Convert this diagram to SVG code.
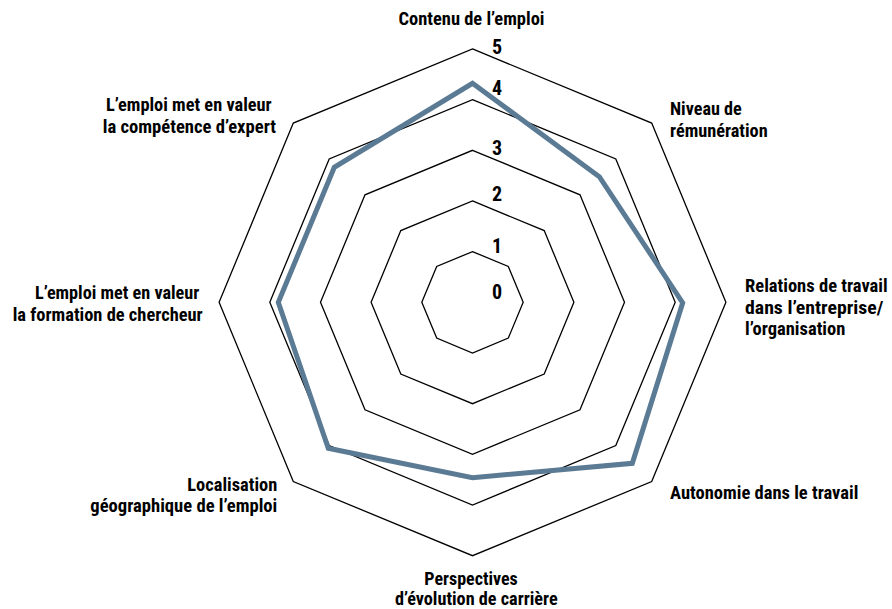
<svg xmlns="http://www.w3.org/2000/svg" width="892" height="609" viewBox="0 0 892 609">
<style>
.ring{fill:none;stroke:#000;stroke-width:1.3;stroke-linejoin:miter}
.data{fill:none;stroke:#5b7b95;stroke-width:5;stroke-linejoin:miter}
text{font-family:"Roboto Condensed","Roboto","Liberation Sans Narrow",sans-serif;font-weight:700;font-size:18px;fill:#000;font-stretch:condensed}
.num{font-size:20px;text-anchor:middle}
.mid{text-anchor:middle}
.end{text-anchor:end}
</style>
<rect width="892" height="609" fill="#fff"/>
<g id="grid">
<polygon class="ring" points="472.5,251.6 508.3,266.5 523.2,302.3 508.3,338.1 472.5,353 436.7,338.1 421.8,302.3 436.7,266.5"/>
<polygon class="ring" points="472.5,200.9 544.2,230.6 573.9,302.3 544.2,374 472.5,403.7 400.8,374 371.1,302.3 400.8,230.6"/>
<polygon class="ring" points="472.5,150.3 580,194.8 624.5,302.3 580,409.8 472.5,454.3 365,409.8 320.5,302.3 365,194.8"/>
<polygon class="ring" points="472.5,99.6 615.8,159 675.2,302.3 615.8,445.6 472.5,505 329.2,445.6 269.8,302.3 329.2,159"/>
<polygon class="ring" points="472.5,48.9 651.7,123.1 725.9,302.3 651.7,481.5 472.5,555.7 293.3,481.5 219.1,302.3 293.3,123.1"/>
</g>
<g id="scale">
<text class="num" x="497" y="298.5">0</text>
<text class="num" x="497" y="252.5">1</text>
<text class="num" x="497" y="201">2</text>
<text class="num" x="497" y="154.5">3</text>
<text class="num" x="497" y="95">4</text>
<text class="num" x="497" y="53.5">5</text>
</g>
<g id="series">
<polygon class="data" points="472.5,83.3 599.3,176.7 682.7,302.8 632.3,463.3 472.5,477.7 328.3,448.3 278.3,302.3 334.3,167.3"/>
</g>
<g id="label-contenu">
<text class="mid" x="471.5" y="24.5" textLength="146" lengthAdjust="spacingAndGlyphs">Contenu de l’emploi</text>
</g>
<g id="label-remuneration">
<text x="670" y="115" textLength="71.7" lengthAdjust="spacingAndGlyphs">Niveau de</text>
<text x="670" y="136.5" textLength="97.7" lengthAdjust="spacingAndGlyphs">rémunération</text>
</g>
<g id="label-relations">
<text x="745" y="292.3" textLength="142.7" lengthAdjust="spacingAndGlyphs">Relations de travail</text>
<text x="745" y="313.8" textLength="138.3" lengthAdjust="spacingAndGlyphs">dans l’entreprise/</text>
<text x="745" y="335.3" textLength="100.3" lengthAdjust="spacingAndGlyphs">l’organisation</text>
</g>
<g id="label-autonomie">
<text x="670" y="499" textLength="188.3" lengthAdjust="spacingAndGlyphs">Autonomie dans le travail</text>
</g>
<g id="label-perspectives">
<text class="mid" x="471" y="585" textLength="93.4" lengthAdjust="spacingAndGlyphs">Perspectives</text>
<text class="mid" x="476.3" y="605" textLength="162.7" lengthAdjust="spacingAndGlyphs">d’évolution de carrière</text>
</g>
<g id="label-localisation">
<text class="end" x="277.3" y="490.5" textLength="90" lengthAdjust="spacingAndGlyphs">Localisation</text>
<text class="end" x="277.3" y="512" textLength="187" lengthAdjust="spacingAndGlyphs">géographique de l’emploi</text>
</g>
<g id="label-formation">
<text class="end" x="199.3" y="298.5" textLength="164.3" lengthAdjust="spacingAndGlyphs">L’emploi met en valeur</text>
<text class="end" x="202.7" y="320.5" textLength="190" lengthAdjust="spacingAndGlyphs">la formation de chercheur</text>
</g>
<g id="label-expert">
<text class="end" x="271.7" y="111" textLength="165.7" lengthAdjust="spacingAndGlyphs">L’emploi met en valeur</text>
<text class="end" x="276" y="132.7" textLength="173.3" lengthAdjust="spacingAndGlyphs">la compétence d’expert</text>
</g>
</svg>
